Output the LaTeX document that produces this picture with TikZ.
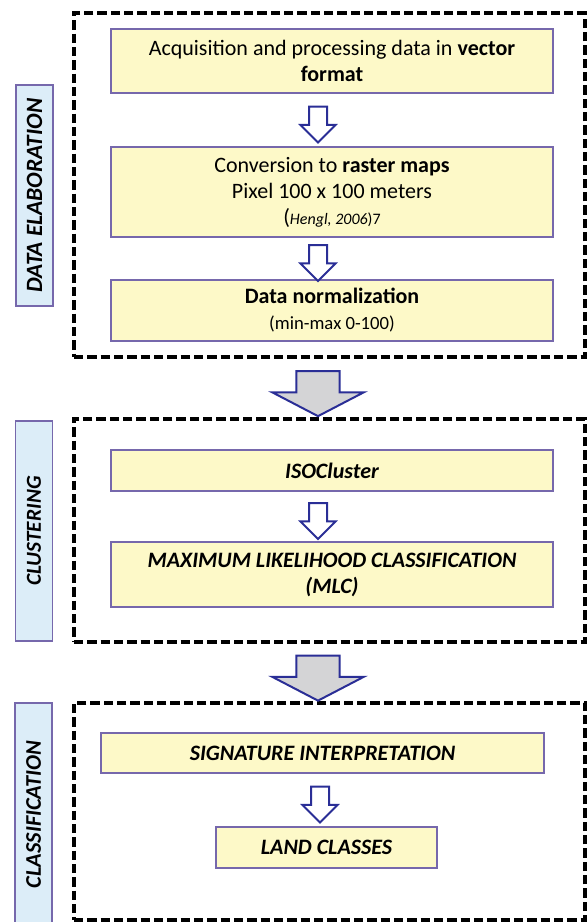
\documentclass[tikz,border=0pt]{standalone}
\usepackage{fontspec}
\setmainfont{Carlito}
\usetikzlibrary{shapes.arrows, positioning, calc}
\definecolor{cYellow}{RGB}{253,249,200}
\definecolor{cFrame}{RGB}{118,104,172}
\definecolor{cSide}{RGB}{220,237,248}
\definecolor{cArrow}{RGB}{42,46,150}
\definecolor{cGrey}{RGB}{212,212,214}
\tikzset{
	stepbox/.style  ={rectangle, draw=cFrame, line width=1.1pt, fill=cYellow, align=center, inner sep=2pt, minimum width=331.5pt, font=\fontsize{16.5}{19.5}\selectfont},
	capsbox/.style  ={stepbox, font=\fontsize{16.5}{19.5}\selectfont\bfseries\itshape},
	sidelabel/.style={rectangle, draw=cFrame, line width=1.1pt, fill=cSide, rotate=90, minimum height=27.75pt, inner sep=0pt},
	phase/.style    ={rectangle, draw=black, line width=3pt, dash pattern=on 7pt off 3pt, minimum width=383.25pt},
	thinarrow/.style={single arrow, draw=cArrow, fill=white, line width=1.5pt, rotate=-90, inner xsep=0pt, inner ysep=6pt, single arrow head extend=6.4pt, single arrow tip angle=90, minimum height=27pt},
	bigarrow/.style ={single arrow, draw=cArrow, fill=cGrey, line width=1.5pt, rotate=-90, inner xsep=0pt, inner ysep=15.5pt, single arrow head extend=18pt, single arrow tip angle=125, minimum height=33.75pt},
}
\begin{document}
\begin{tikzpicture}[x=0.75pt, y=-0.75pt]
	\useasboundingbox (0,0) rectangle (588,922);
	% dashed phase frames
	\node[phase, minimum height=258pt] (frameA) at (329.5,185) {};
	\node[phase, minimum height=167.25pt] (frameB) at (329.5,530.5) {};
	\node[phase, minimum height=162.75pt] (frameC) at (329.5,811.5) {};
	% side labels
	\node[sidelabel, minimum width=165.75pt, font=\fontsize{17.5}{20}\selectfont\bfseries\itshape] (labA) at (34.5,195.5) {DATA ELABORATION};
	\node[sidelabel, minimum width=165pt, font=\fontsize{16}{19}\selectfont\bfseries\itshape] (labB) at (34,531) {CLUSTERING};
	\node[sidelabel, minimum width=167.25pt, font=\fontsize{16.8}{19}\selectfont\bfseries\itshape] (labC) at (33.5,814.5) {CLASSIFICATION};
	% data elaboration
	\node[stepbox, minimum height=48pt] (acq) at (332,61) {Acquisition and processing data in \textbf{vector}\\ \textbf{format}};
	\node[stepbox, minimum height=67.5pt] (conv) at (332,192) {Conversion to \textbf{raster maps}\\ Pixel 100 x 100 meters\\ (\fontsize{12}{14}\selectfont\textit{Hengl, 2006})7};
	\node[stepbox, minimum height=45.75pt] (norm) at (332,310.5) {\textbf{Data normalization}\\ {\fontsize{14}{16}\selectfont (min-max 0-100)}};
	% clustering
	\node[capsbox, minimum height=30.75pt] (iso) at (332,470.5) {ISOCluster};
	\node[capsbox, minimum height=48.75pt] (mlc) at (332,574.5) {MAXIMUM LIKELIHOOD CLASSIFICATION\\ (MLC)};
	% classification
	\node[capsbox, minimum width=332.25pt, minimum height=30pt] (sig) at (322.5,753) {SIGNATURE INTERPRETATION};
	\node[capsbox, minimum width=165.75pt, minimum height=30.75pt] (land) at (326.5,847.5) {LAND CLASSES};
	% block arrows
	\node[thinarrow] (d1) at ($(acq.south)!0.5!(conv.north) + (-14,0)$) {};
	\node[thinarrow] (d2) at ($(conv.south)!0.5!(norm.north) + (-14,0)$) {};
	\node[thinarrow] (d3) at ($(iso.south)!0.5!(mlc.north) + (-14,0)$) {};
	\node[thinarrow] (d4) at ($(sig.south)!0.5!(land.north) + (-4.5,0)$) {};
	\node[bigarrow] (p1) at ($(frameA.south)!0.5!(frameB.north) + (-11.5,0)$) {};
	\node[bigarrow] (p2) at ($(frameB.south)!0.5!(frameC.north) + (-11.5,0)$) {};
\end{tikzpicture}
\end{document}
